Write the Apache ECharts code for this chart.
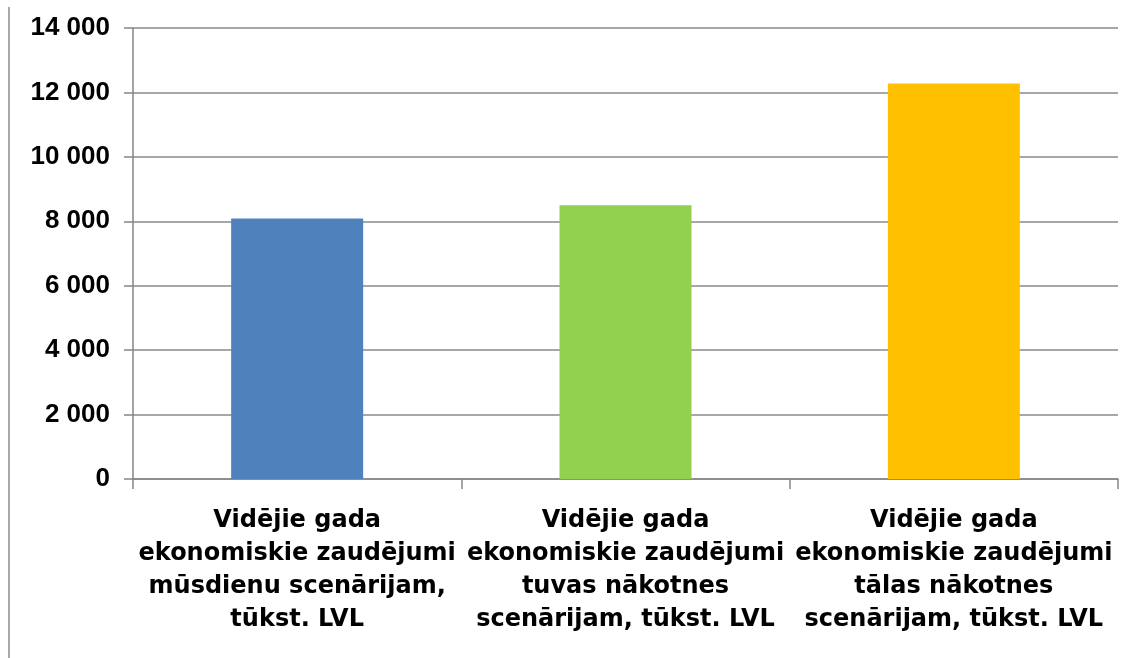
<!DOCTYPE html>
<html>
	<head>
		<meta charset="utf-8">
		<title></title>
		<script src="https://cdn.jsdelivr.net/npm/echarts@6/dist/echarts.min.js"></script>
		<style>
			html, body { margin: 0; padding: 0; background: #fff; }
		</style>
	</head>
	<body>
		<div id="my" style="width: 1121px;height:658px;"></div>

		<script>
			// kategorijas (ar rindu pārnesumiem kā oriģinālā)
			var categories = [
				'Vidējie gada\nekonomiskie zaudējumi\nmūsdienu scenārijam,\ntūkst. LVL',
				'Vidējie gada\nekonomiskie zaudējumi\ntuvas nākotnes\nscenārijam, tūkst. LVL',
				'Vidējie gada\nekonomiskie zaudējumi\ntālas nākotnes\nscenārijam, tūkst. LVL'
			];
			var values = [8090, 8500, 12280];
			var barColors = ['#4F81BD', '#92D050', '#FFC000'];
			var yMin = 0, yMax = 14000, yStep = 2000;

			var myChart = echarts.init(document.getElementById('my'));

			var option = {
				animation: false,
				grid: {
					left: 133,
					right: 3,
					top: 28,
					bottom: 179
				},
				// kreisā vertikālā līnija
				graphic: [{
					type: 'line',
					shape: { x1: 9, y1: 7, x2: 9, y2: 658 },
					style: { stroke: '#8c8c8c', lineWidth: 1.5 }
				}],
				xAxis: {
					type: 'category',
					data: categories,
					axisLine: { lineStyle: { color: '#868686', width: 1.5 } },
					axisTick: { show: true, length: 10, lineStyle: { color: '#868686', width: 1.5 } },
					axisLabel: {
						interval: 0,
						margin: 25,
						color: '#000',
						fontFamily: 'DejaVu Sans',
						fontWeight: 'bold',
						fontSize: 24,
						lineHeight: 33
					}
				},
				yAxis: {
					type: 'value',
					min: yMin,
					max: yMax,
					interval: yStep,
					axisLine: { show: true, lineStyle: { color: '#868686', width: 1.5 } },
					axisTick: { show: true, length: 9, lineStyle: { color: '#868686', width: 1.5 } },
					splitLine: { lineStyle: { color: '#8a8a8a', width: 1.5 } },
					axisLabel: {
						margin: 23,
						color: '#000',
						fontFamily: 'Liberation Sans',
						fontWeight: 'bold',
						fontSize: 26,
						formatter: function (v) {
							return String(v).replace(/\B(?=(\d{3})+(?!\d))/g, ' ');
						}
					}
				},
				series: [{
					type: 'bar',
					barWidth: 132,
					data: values.map(function (v, i) {
						return { value: v, itemStyle: { color: barColors[i] } };
					})
				}]
			};

			myChart.setOption(option);
		</script>
	</body>
</html>
